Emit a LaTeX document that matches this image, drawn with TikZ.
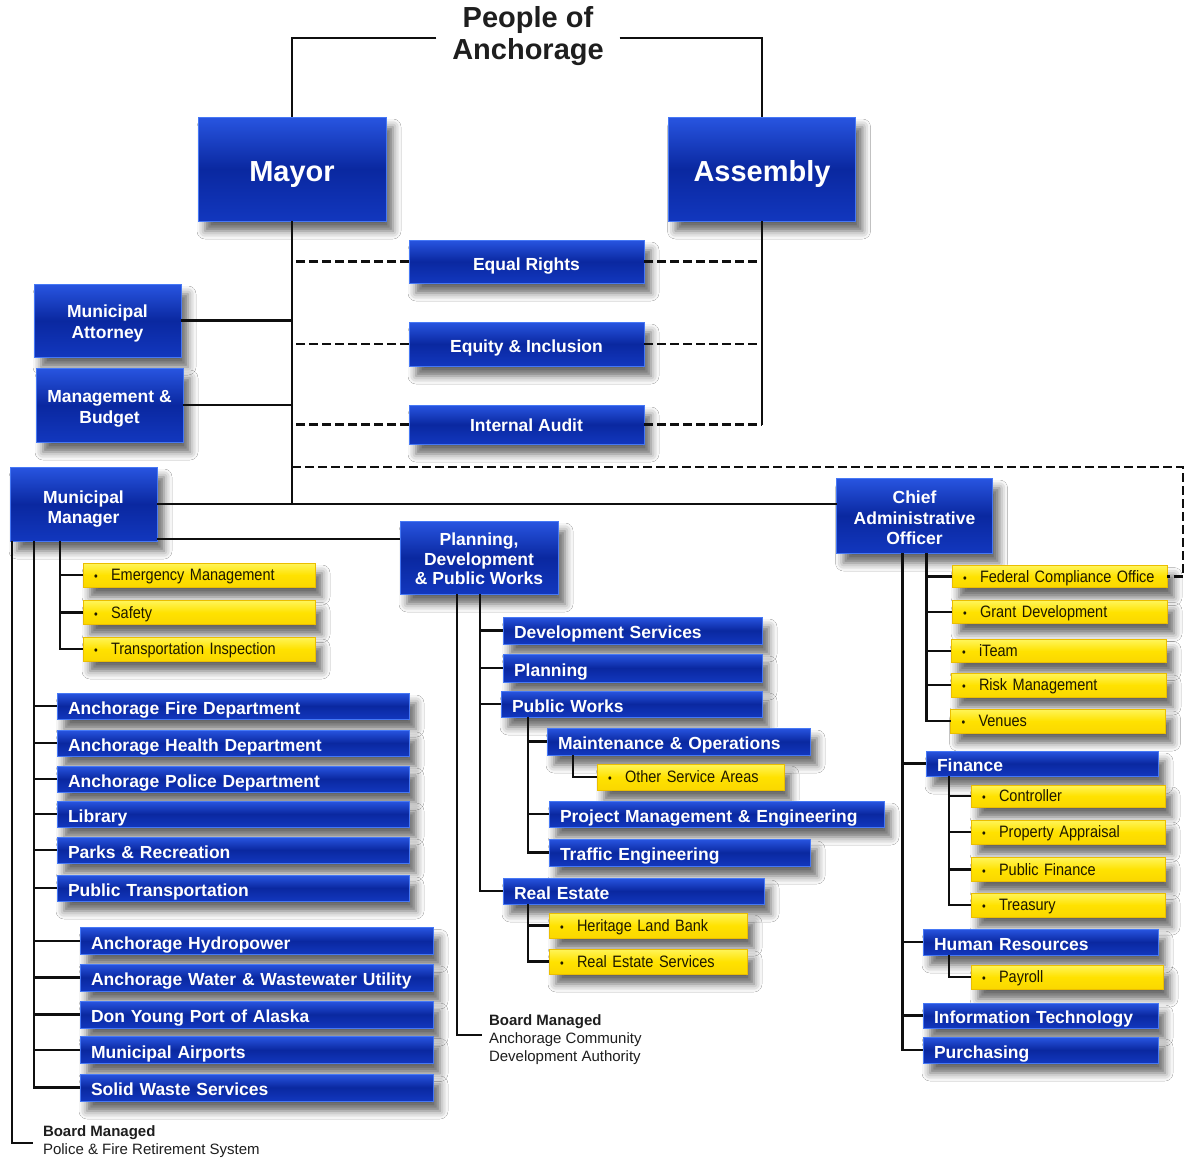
\documentclass[tikz,border=0pt]{standalone}
\usepackage{fontspec}
\setmainfont{Liberation Sans}
\newfontfamily\yfam[FakeStretch=0.88]{Liberation Sans}
\usetikzlibrary{shadows,shadows.blur}
\definecolor{bTop}{RGB}{40,85,225}
\definecolor{bMid}{RGB}{10,40,160}
\definecolor{bBot}{RGB}{18,55,190}
\definecolor{bEdge}{RGB}{70,120,245}
\definecolor{yTop}{RGB}{255,245,90}
\definecolor{yMid}{RGB}{255,226,0}
\definecolor{yBot}{RGB}{250,215,0}
\definecolor{yEdge}{RGB}{235,190,0}
\definecolor{yText}{RGB}{30,25,0}
\definecolor{lineC}{RGB}{15,15,15}
\definecolor{darkT}{RGB}{30,30,30}
\newcommand\ybul{\makebox[17pt][l]{\fontsize{12}{12}\selectfont\textbullet}}
\begin{document}
\begin{tikzpicture}[x=1pt,y=-1pt,
  every node/.style={inner sep=0pt,outer sep=0pt},
  shade/.style={blur shadow={shadow xshift=7pt,shadow yshift=-10pt,shadow blur radius=8pt,shadow opacity=60}},
  bluebox/.style={rectangle,shade,top color=bTop,bottom color=bBot,middle color=bMid,draw=bEdge,line width=0.8pt,
    text=white,font=\fontsize{17.5}{20}\selectfont\bfseries,inner xsep=11pt,inner ysep=0pt},
  cbox/.style={bluebox,align=center,text depth=0pt},
  lbox/.style={bluebox,align=left,minimum height=26pt,text height=16pt,text depth=0pt},
  bigbox/.style={bluebox,align=center,font=\fontsize{29}{32}\selectfont\bfseries,text height=25.8pt,text depth=0pt},
  btxt/.style={align=center,text=white,font=\fontsize{17.5}{20.5}\selectfont\bfseries},
  ybox/.style={rectangle,shade,top color=yTop,bottom color=yBot,middle color=yMid,draw=yEdge,line width=0.6pt,
    text=yText,font=\yfam\fontsize{16.5}{19}\selectfont,inner xsep=11pt,align=left,minimum height=24pt,
    text height=11.6pt,text depth=0pt},
  board/.style={align=left,font=\fontsize{15}{18}\selectfont,text=darkT,anchor=north west},
  conn/.style={draw=lineC,line width=2.6pt},
  dconn/.style={draw=lineC,line width=2.6pt,dash pattern=on 9pt off 4pt}
]
\fill[white] (0,0) rectangle (1186,1167);
\useasboundingbox (0,0) rectangle (1186,1167);

% top
\node[align=center,inner xsep=16pt,font=\fontsize{29}{32}\selectfont\bfseries,text=darkT] (people) at (528,36) {People of\\Anchorage};
\node[bigbox,minimum width=188pt,minimum height=104pt] (mayor) at (292,169) {Mayor};
\node[bigbox,minimum width=187pt,minimum height=104pt] (assembly) at (762,169) {Assembly};

\node[cbox,minimum width=235pt,minimum height=43pt,text height=18.5pt] (eqr) at (526.5,261.5) {Equal Rights};
\node[cbox,minimum width=235pt,minimum height=44pt,text height=17.5pt] (eqi) at (526.5,344) {Equity \& Inclusion};
\node[cbox,minimum width=235pt,minimum height=39pt,text height=14pt] (audit) at (526.5,424.5) {Internal Audit};

\node[bluebox,minimum width=147pt,minimum height=73pt] (ma) at (107.5,320.5) {};
\node[btxt] (maT) at ([yshift=-3pt]ma.center) {Municipal\\Attorney};
\node[bluebox,minimum width=147pt,minimum height=74pt] (mb) at (109.5,405) {};
\node[btxt] (mbT) at ([yshift=-4pt]mb.center) {Management \&\\Budget};
\node[bluebox,minimum width=147pt,minimum height=74pt] (mm) at (83.5,504) {};
\node[btxt] (mmT) at ([yshift=-5pt]mm.center) {Municipal\\Manager};
\node[bluebox,minimum width=158pt,minimum height=73pt] (pdpw) at (479,557.5) {};
\node[btxt,font=\fontsize{17.5}{19.5}\selectfont\bfseries] (pdpwT) at ([yshift=-1.5pt]pdpw.center) {Planning,\\Development\\\& Public Works};
\node[bluebox,minimum width=156pt,minimum height=75pt] (cao) at (914.5,515.5) {};
\node[btxt] (caoT) at ([yshift=-2.5pt]cao.center) {Chief\\Administrative\\Officer};

% Municipal Manager branch
\node[ybox,minimum width=232pt,text width=210pt] (em) at (199,575) {\ybul Emergency Management};
\node[ybox,minimum width=232pt,text width=210pt] (safety) at (199,612.5) {\ybul Safety};
\node[ybox,minimum width=232pt,text width=210pt] (ti) at (199,649) {\ybul Transportation Inspection};

\node[lbox,minimum width=352pt,text width=330pt] (fire) at (233,706) {Anchorage Fire Department};
\node[lbox,minimum width=352pt,text width=330pt] (health) at (233,743) {Anchorage Health Department};
\node[lbox,minimum width=352pt,text width=330pt] (police) at (233,779) {Anchorage Police Department};
\node[lbox,minimum width=352pt,text width=330pt] (library) at (233,814) {Library};
\node[lbox,minimum width=352pt,text width=330pt] (parks) at (233,850) {Parks \& Recreation};
\node[lbox,minimum width=352pt,text width=330pt] (pubtrans) at (233,888) {Public Transportation};

\node[lbox,minimum width=353pt,text width=331pt,minimum height=27pt] (hydro) at (256.5,941) {Anchorage Hydropower};
\node[lbox,minimum width=353pt,text width=331pt,minimum height=27pt] (water) at (256.5,977.5) {Anchorage Water \& Wastewater Utility};
\node[lbox,minimum width=353pt,text width=331pt,minimum height=27pt] (port) at (256.5,1014.5) {Don Young Port of Alaska};
\node[lbox,minimum width=353pt,text width=331pt,minimum height=27pt] (airports) at (256.5,1050) {Municipal Airports};
\node[lbox,minimum width=353pt,text width=331pt,minimum height=27pt] (sws) at (256.5,1087.5) {Solid Waste Services};

\node[board] (pfrs) at (43,1126) {\textbf{Board Managed}\\Police \& Fire Retirement System};

% PDPW branch
\node[lbox,minimum width=259pt,text width=237pt,minimum height=27pt] (ds) at (632.5,630.5) {Development Services};
\node[lbox,minimum width=259pt,text width=237pt,minimum height=28pt] (plan) at (632.5,668) {Planning};
\node[lbox,minimum width=261pt,text width=239pt] (pw) at (631.5,704) {Public Works};
\node[lbox,minimum width=263pt,text width=241pt,minimum height=27pt] (mo) at (678.5,741.5) {Maintenance \& Operations};
\node[ybox,minimum width=187pt,text width=165pt,minimum height=26pt] (osa) at (690.5,777) {\ybul Other Service Areas};
\node[lbox,minimum width=335pt,text width=313pt] (pme) at (716.5,814) {Project Management \& Engineering};
\node[lbox,minimum width=261pt,text width=239pt,minimum height=27pt] (te) at (679.5,852.5) {Traffic Engineering};
\node[lbox,minimum width=261pt,text width=239pt] (re) at (633.5,891) {Real Estate};
\node[ybox,minimum width=198pt,text width=176pt,minimum height=25pt] (hlb) at (648,925.5) {\ybul Heritage Land Bank};
\node[ybox,minimum width=198pt,text width=176pt,minimum height=25pt] (res) at (648,961.5) {\ybul Real Estate Services};

\node[board] (acda) at (489,1015) {\textbf{Board Managed}\\Anchorage Community\\Development Authority};

% CAO branch
\node[ybox,minimum width=215pt,text width=193pt,minimum height=22pt] (fco) at (1059.5,576.5) {\ybul Federal Compliance Office};
\node[ybox,minimum width=215pt,text width=193pt,minimum height=23pt] (grant) at (1059.5,612) {\ybul Grant Development};
\node[ybox,minimum width=215pt,text width=193pt,minimum height=23pt] (iteam) at (1058.5,651) {\ybul iTeam};
\node[ybox,minimum width=215pt,text width=193pt,minimum height=24pt] (risk) at (1058.5,685) {\ybul Risk Management};
\node[ybox,minimum width=215pt,text width=193pt,minimum height=24pt] (venues) at (1058,721) {\ybul Venues};

\node[lbox,minimum width=232pt,text width=210pt,minimum height=25pt] (finance) at (1042,763.5) {Finance};
\node[ybox,minimum width=194pt,text width=172pt,minimum height=22pt] (controller) at (1068,796) {\ybul Controller};
\node[ybox,minimum width=194pt,text width=172pt,minimum height=24pt] (prop) at (1068,832) {\ybul Property Appraisal};
\node[ybox,minimum width=194pt,text width=172pt,minimum height=24pt] (pubfin) at (1068,869.5) {\ybul Public Finance};
\node[ybox,minimum width=194pt,text width=172pt,minimum height=24pt] (treasury) at (1068,905) {\ybul Treasury};
\node[lbox,minimum width=235pt,text width=213pt] (hr) at (1040.5,942) {Human Resources};
\node[ybox,minimum width=192pt,text width=170pt,minimum height=24pt] (payroll) at (1067,977) {\ybul Payroll};
\node[lbox,minimum width=235pt,text width=213pt,minimum height=25pt] (it) at (1040.5,1015.5) {Information Technology};
\node[lbox,minimum width=235pt,text width=213pt] (purch) at (1040.5,1050) {Purchasing};

% ---- connectors ----
\draw[conn] ([yshift=-2pt]people.west) -| (mayor.north);
\draw[conn] ([yshift=-2pt]people.east) -| (assembly.north);
\draw[conn] (mayor.south) -- (mayor.south |- mm.east);
\draw[conn] (mm.east) -- (cao.west |- mm.east);
\draw[conn] (ma.east) -- (ma.east -| mayor.south);
\draw[conn] (mb.east) -- (mb.east -| mayor.south);
\draw[conn] (assembly.south) -- (assembly.south |- audit.east);
\foreach \n in {eqr,eqi,audit}{
  \draw[dconn] (\n.west) -- (\n.west -| mayor.south);
  \draw[dconn] (\n.east) -- (\n.east -| assembly.south);
}
\coordinate (dR) at (1183,467);
\draw[dconn] (mayor.south |- dR) -- (dR) |- (fco.east);
\coordinate (mmp) at (157,539);
\draw[conn] (mmp) -- (pdpw.west |- mmp);

% MM
\coordinate (mv0) at ([xshift=2pt]mm.south west);
\coordinate (mv1) at ([xshift=24pt]mm.south west);
\coordinate (mv2) at ([xshift=50pt]mm.south west);
\draw[conn] (mv0) |- ([shift={(-10pt,-17pt)}]pfrs.north west);
\draw[conn] (mv1) |- (sws.west);
\foreach \n in {fire,health,police,library,parks,pubtrans,hydro,water,port,airports}
  \draw[conn] (\n.west) -- (\n.west -| mv1);
\draw[conn] (mv2) |- (ti.west);
\foreach \n in {em,safety} \draw[conn] (\n.west) -- (\n.west -| mv2);

% PDPW
\coordinate (pv0) at ([xshift=57pt]pdpw.south west);
\coordinate (pv1) at ([xshift=80pt]pdpw.south west);
\draw[conn] (pv0) |- ([shift={(-7pt,-20pt)}]acda.north west);
\draw[conn] (pv1) |- (re.west);
\foreach \n in {ds,plan,pw} \draw[conn] (\n.west) -- (\n.west -| pv1);
\coordinate (pwv) at ([xshift=27pt]pw.south west);
\draw[conn] (pwv) |- (te.west);
\foreach \n in {mo,pme} \draw[conn] (\n.west) -- (\n.west -| pwv);
\coordinate (mov) at ([xshift=26pt]mo.south west);
\draw[conn] (mov) |- (osa.west);
\coordinate (rev) at ([xshift=25pt]re.south west);
\draw[conn] (rev) |- (res.west);
\draw[conn] (hlb.west) -- (hlb.west -| rev);

% CAO
\coordinate (cv0) at ([xshift=66pt]cao.south west);
\coordinate (cv1) at ([xshift=90pt]cao.south west);
\draw[conn] (cv0) |- (purch.west);
\foreach \n in {finance,hr,it} \draw[conn] (\n.west) -- (\n.west -| cv0);
\draw[conn] (cv1) |- (venues.west);
\foreach \n in {fco,grant,iteam,risk} \draw[conn] (\n.west) -- (\n.west -| cv1);
\coordinate (fv) at ([xshift=23pt]finance.south west);
\draw[conn] (fv) |- (treasury.west);
\foreach \n in {controller,prop,pubfin} \draw[conn] (\n.west) -- (\n.west -| fv);
\coordinate (hv) at ([xshift=26pt]hr.south west);
\draw[conn] (hv) |- (payroll.west);
\end{tikzpicture}
\end{document}
